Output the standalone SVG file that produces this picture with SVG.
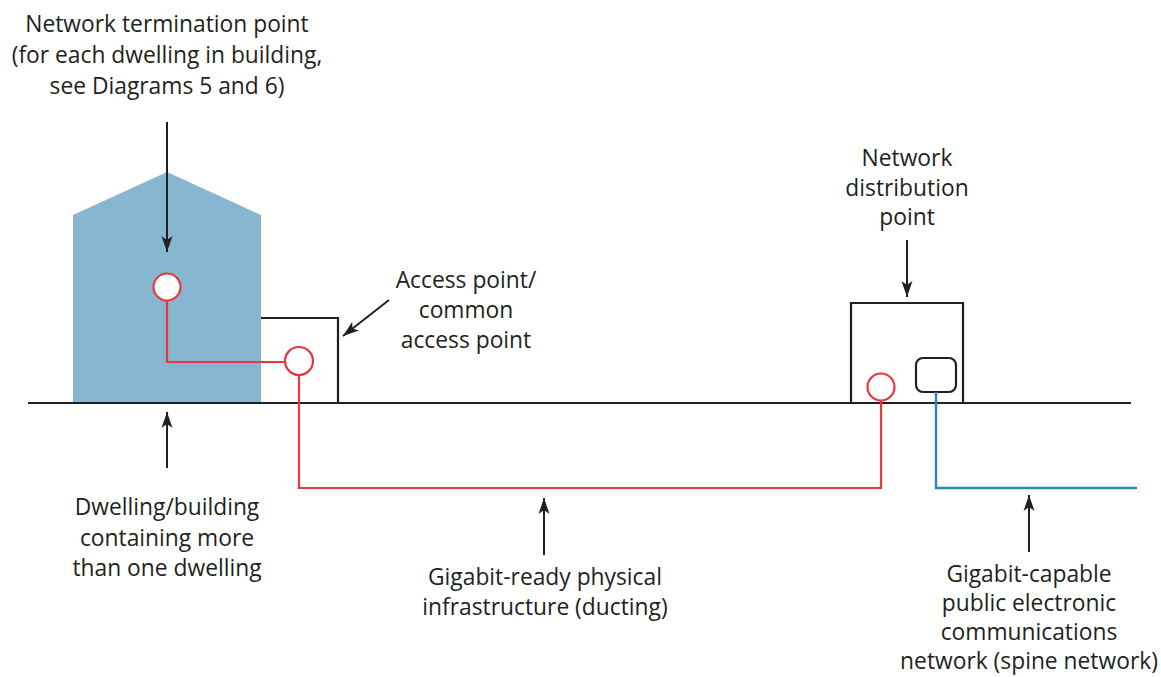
<svg xmlns="http://www.w3.org/2000/svg" width="1161" height="677" viewBox="0 0 1161 677">
<style>
text{font-family:"Open Sans","Noto Sans",sans-serif;font-size:22.8px;fill:#231f20;text-anchor:middle}
.blk{fill:none;stroke:#231f20;stroke-width:2.2}
.arr{fill:none;stroke:#231f20;stroke-width:2;marker-end:url(#ah)}
.red{fill:none;stroke:#e8383d;stroke-width:2.2}
.redc{fill:#fff;stroke:#e8383d;stroke-width:2.2}
.blue{fill:none;stroke:#2a86b8;stroke-width:2.4}
</style>
<defs>
<marker id="ah" markerUnits="userSpaceOnUse" markerWidth="20" markerHeight="14" refX="16" refY="6" orient="auto">
<path d="M0,0.5 L16,6 L0,11.5 L4,6 z" fill="#231f20"/>
</marker>
</defs>
<g id="building">
<polygon points="73,403 73,215 167,172 261,215 261,403" fill="#86b6d0"/>
</g>
<g id="access-box">
<path class="blk" d="M261,318 H338 V403"/>
</g>
<g id="ndp-box">
<path class="blk" d="M851,403 V303 H963 V403"/>
<rect class="blk" x="916" y="358" width="40" height="34" rx="7"/>
</g>
<g id="ground">
<line class="blk" x1="28" y1="403" x2="1131" y2="403" stroke-width="2.6"/>
</g>
<g id="connectors">
<path class="red" d="M167,300 V362 H285"/>
<path class="red" d="M299,375 V488 H881 V401"/>
<path class="blue" d="M936,392 V488 H1137"/>
<line class="arr" x1="167" y1="122" x2="167" y2="252"/>
<line class="arr" x1="389" y1="300" x2="343" y2="336"/>
<line class="arr" x1="907" y1="240" x2="907" y2="297"/>
<line class="arr" x1="167" y1="468" x2="167" y2="412"/>
<line class="arr" x1="544" y1="555" x2="544" y2="498"/>
<line class="arr" x1="1029" y1="552" x2="1029" y2="495"/>
</g>
<g id="ntp">
<circle class="redc" cx="167" cy="287" r="13.5"/>
</g>
<g id="ap">
<circle class="redc" cx="299" cy="361" r="14"/>
</g>
<g id="ndp">
<circle class="redc" cx="881" cy="387" r="13.5"/>
</g>
<g id="labels">
<text x="167" y="32">Network termination point</text>
<text x="167" y="63">(for each dwelling in building,</text>
<text x="167" y="94">see Diagrams 5 and 6)</text>
<text x="466" y="288">Access point/</text>
<text x="466" y="318">common</text>
<text x="466" y="348">access point</text>
<text x="907" y="166">Network</text>
<text x="907" y="196">distribution</text>
<text x="907" y="225">point</text>
<text x="167" y="515">Dwelling/building</text>
<text x="167" y="546">containing more</text>
<text x="167" y="576">than one dwelling</text>
<text x="545" y="585">Gigabit-ready physical</text>
<text x="545" y="615">infrastructure (ducting)</text>
<text x="1029" y="582">Gigabit-capable</text>
<text x="1029" y="611">public electronic</text>
<text x="1029" y="640">communications</text>
<text x="1029" y="669">network (spine network)</text>
</g>
</svg>
